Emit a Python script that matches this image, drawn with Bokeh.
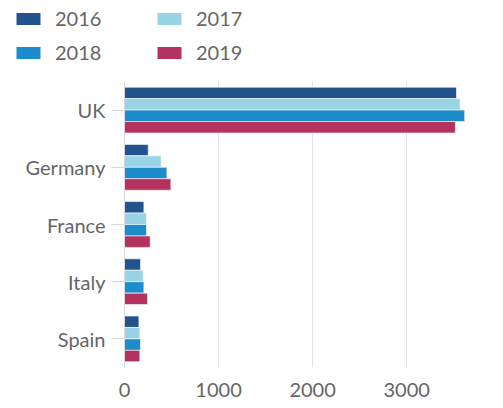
from bokeh.plotting import figure
from bokeh.layouts import column
from bokeh.models import ColumnDataSource, Legend, LegendItem, FixedTicker, Range1d, FactorRange
from bokeh.transform import dodge
from bokeh.embed import file_html
from bokeh.resources import INLINE

countries = ["UK", "Germany", "France", "Italy", "Spain"]
years = ["2016", "2017", "2018", "2019"]
v2016 = [3530, 252, 206, 170, 153]
v2017 = [3568, 390, 234, 199, 163]
v2018 = [3617, 451, 234, 206, 170]
v2019 = [3518, 493, 273, 245, 163]
colors = ["#22538c", "#99d3e6", "#1d8ccc", "#b3325f"]
x_ticks = [0, 1000, 2000, 3000]

FONT = "Lato"
TEXT = "#666666"

src = ColumnDataSource(dict(country=countries, y2016=v2016, y2017=v2017,
                            y2018=v2018, y2019=v2019))

# main chart
p = figure(width=495, height=330, output_backend="svg", toolbar_location=None,
           y_range=FactorRange(*countries[::-1], range_padding=0),
           x_range=Range1d(0, 3700))
p.min_border_left = 124
p.min_border_top = 11
p.min_border_bottom = 33
p.min_border_right = 23
p.outline_line_color = None
p.frame_align = False

offsets = [0.3, 0.1, -0.1, -0.3]
for yr, col, off in zip(years, colors, offsets):
    p.hbar(y=dodge("country", off, range=p.y_range), right="y" + yr, left=0,
           height=0.2, source=src, fill_color=col, line_color="white",
           line_width=0.6)

p.ygrid.grid_line_color = None
p.xgrid.grid_line_color = "#e2e2e2"
p.xaxis.ticker = FixedTicker(ticks=x_ticks)
p.xaxis.axis_line_color = None
p.xaxis.major_tick_line_color = None
p.xaxis.minor_tick_line_color = None
p.xaxis.major_label_standoff = 9
p.yaxis.axis_line_color = "#d8d8d8"
p.yaxis.major_tick_line_color = "#d8d8d8"
p.yaxis.major_tick_out = 13
p.yaxis.major_tick_in = 0
p.yaxis.major_label_standoff = 6
for ax in (p.xaxis, p.yaxis):
    ax.major_label_text_font = FONT
    ax.major_label_text_font_size = "20px"
    ax.major_label_text_color = TEXT

# legend strip on top (full width, so nothing gets clipped)
lg = figure(width=495, height=70, output_backend="svg", toolbar_location=None,
            x_range=Range1d(0, 1), y_range=Range1d(0, 1),
            x_axis_type=None, y_axis_type=None)
lg.min_border = 0
lg.outline_line_color = None
lg.grid.grid_line_color = None
lg.frame_align = False
swatch = {}
for yr, col in zip(years, colors):
    # proxies: bars sit below the strip's range, only their swatches show
    swatch[yr] = lg.hbar(y=-1, right="y" + yr, left=0, height=0.5, source=src,
                         fill_color=col, line_color=None)
# legend fills column by column: order so rows read 2016 2017 / 2018 2019
order = ["2016", "2018", "2017", "2019"]
items = [LegendItem(label=yr, renderers=[swatch[yr]]) for yr in order]

legend = Legend(items=items, ncols=2, location=(13, 6),
                glyph_width=30, glyph_height=15, label_standoff=12,
                label_width=89, label_height=20, spacing=10,
                padding=0, margin=0, border_line_color=None,
                background_fill_alpha=0,
                label_text_font=FONT, label_text_font_size="20px",
                label_text_color=TEXT)
lg.add_layout(legend)

out = column(lg, p, spacing=0)
open("out.html", "w").write(file_html(out, INLINE))
